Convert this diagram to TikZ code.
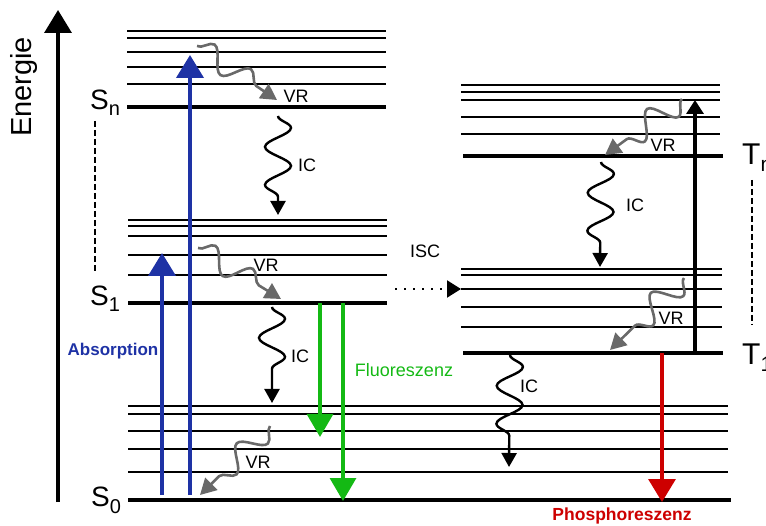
\documentclass[tikz,border=0pt]{standalone}
\usepackage{fontspec}
\setmainfont{Liberation Sans}
\usetikzlibrary{arrows.meta,decorations.pathmorphing}
\definecolor{absblue}{RGB}{30,50,165}
\definecolor{flgreen}{RGB}{20,185,20}
\definecolor{phred}{RGB}{205,0,0}
\definecolor{vrgray}{RGB}{105,105,105}
\newcommand\statelbl[2]{\fontsize{28}{30}\selectfont #1\raisebox{-6pt}{\fontsize{20}{22}\selectfont #2}}
\newcommand\tstatelbl[2]{\fontsize{30}{32}\selectfont #1\raisebox{-7pt}{\fontsize{21}{23}\selectfont #2}}
\begin{document}
\begin{tikzpicture}[x=1pt,y=-1pt,
  thinlvl/.style={draw=black,line width=1.4pt},
  thicklvl/.style={draw=black,line width=3.5pt},
  absarr/.style={draw=absblue,line width=4pt,-{Triangle[width=27pt,length=23pt]}},
  flarr/.style={draw=flgreen,line width=3.3pt,-{Triangle[width=26pt,length=23pt]}},
  pharr/.style={draw=phred,line width=3.3pt,-{Triangle[width=27pt,length=23pt]}},
  uparr/.style={draw=black,line width=3.3pt,-{Triangle[width=17pt,length=14pt]}},
  icw/.style={draw=black,line width=2.4pt,-{Triangle[width=15pt,length=14pt]},
    decorate,decoration={snake,amplitude=13pt,segment length=38pt,post length=16pt}},
  vrw/.style={draw=vrgray,line width=2.6pt,-{Triangle[width=17pt,length=16pt]},
    decorate,decoration={snake,amplitude=11pt,segment length=44pt,post length=17pt}},
  vrwt/.style={vrw,decoration={snake,amplitude=12.5pt,segment length=42pt,post length=17pt}},
  small/.style={inner sep=0pt,font=\fontsize{18}{20}\selectfont},
  slbl/.style={inner sep=0pt,anchor=base west},
  dashv/.style={draw=black,line width=1.3pt,dash pattern=on 6pt off 3pt}
]
\useasboundingbox (0,0) rectangle (766,526);

% Energy axis
\coordinate (eb) at (58,502);
\coordinate (et) at (58,10);
\draw[line width=3.5pt,-{Triangle[width=27pt,length=23pt]}] (eb) -- (et);
\node[rotate=90,inner sep=0pt,font=\fontsize{29}{31}\selectfont] (energie) at (24,87) {Energie};

% S_n levels
\foreach \yy in {31,38,52,67,84} \draw[thinlvl] (127,\yy) -- (386,\yy);
\draw[thicklvl] (127,107) -- (386,107);
% S_1 levels
\foreach \yy in {220,226,236,255,275} \draw[thinlvl] (128,\yy) -- (387,\yy);
\draw[thicklvl] (128,303) -- (387,303);
% S_0 levels
\foreach \yy in {406,414,431,449,472} \draw[thinlvl] (128,\yy) -- (728,\yy);
\draw[draw=black,line width=4.2pt] (128,500) -- (731,500);
% T_n levels
\foreach \yy in {85,92,100,117,134} \draw[thinlvl] (461,\yy) -- (720,\yy);
\draw[thicklvl] (463,156) -- (723,156);
% T_1 levels
\foreach \yy in {269,275,289,307,327} \draw[thinlvl] (461,\yy) -- (722,\yy);
\draw[thicklvl] (463,353) -- (723,353);

% state labels
\node[slbl] (lSn) at (90,110) {\statelbl{S}{n}};
\node[slbl] (lS1) at (90,306) {\statelbl{S}{1}};
\node[slbl] (lS0) at (91,507) {\statelbl{S}{0}};
\node[slbl] (lTn) at (742,165) {\tstatelbl{T}{n}};
\node[slbl] (lT1) at (742,365) {\tstatelbl{T}{1}};

% dashed vertical
\coordinate (dl1) at (95,121); \coordinate (dl2) at (95,272);
\draw[dashv] (dl1) -- (dl2);
\coordinate (dr1) at (752,180); \coordinate (dr2) at (752,325);
\draw[dashv,line width=1.8pt] (dr1) -- (dr2);

% absorption
\coordinate (a1s) at (162,495); \coordinate (a1e) at (162,253);
\coordinate (a2s) at (190,495); \coordinate (a2e) at (190,55);
\draw[absarr] (a1s) -- (a1e);
\draw[absarr] (a2s) -- (a2e);
\node[inner sep=0pt,font=\bfseries\fontsize{17}{19}\selectfont,text=absblue] (absorption) at (113,351) {Absorption};

% fluorescence
\coordinate (f1s) at (320,303); \coordinate (f1e) at (320,437);
\coordinate (f2s) at (343,303); \coordinate (f2e) at (343,501);
\draw[flarr] (f1s) -- (f1e);
\draw[flarr] (f2s) -- (f2e);
\node[inner sep=0pt,font=\fontsize{18}{20}\selectfont,text=flgreen] (fluor) at (404,370) {Fluoreszenz};

% phosphorescence
\coordinate (ps) at (662,353); \coordinate (pe) at (662,502);
\draw[pharr] (ps) -- (pe);
\node[inner sep=0pt,font=\bfseries\fontsize{17.5}{19}\selectfont,text=phred] (phos) at (622,516) {Phosphoreszenz};

% T1 -> Tn absorption
\coordinate (us) at (695,353); \coordinate (ue) at (695,100);
\draw[uparr] (us) -- (ue);

% ISC
\coordinate (isc1) at (395,289); \coordinate (isc2) at (461,289);
\draw[line width=2pt,dash pattern=on 2pt off 7pt,-{Triangle[width=17pt,length=14pt]}] (isc1) -- (isc2);
\node[small] (isclbl) at (425,251) {ISC};

% IC waves
\coordinate (ic1s) at (278,116); \coordinate (ic1e) at (278,215);
\draw[icw] (ic1s) -- (ic1e);
\node[small] (ic1l) at (307,165) {IC};
\coordinate (ic2s) at (272,307); \coordinate (ic2e) at (272,403);
\draw[icw] (ic2s) -- (ic2e);
\node[small] (ic2l) at (300,356) {IC};
\coordinate (ic3s) at (601,162); \coordinate (ic3e) at (600,267);
\draw[icw] (ic3s) -- (ic3e);
\node[small] (ic3l) at (635,205) {IC};
\coordinate (ic4s) at (510,355); \coordinate (ic4e) at (509,467);
\draw[icw] (ic4s) -- (ic4e);
\node[small] (ic4l) at (529,386) {IC};

% VR waves
\coordinate (vr1s) at (197,46); \coordinate (vr1e) at (277,100);
\draw[vrw] (vr1s) -- (vr1e);
\node[small] (vr1l) at (296,96) {VR};
\coordinate (vr2s) at (198,248); \coordinate (vr2e) at (281,299);
\draw[vrw] (vr2s) -- (vr2e);
\node[small] (vr2l) at (266,265) {VR};
\coordinate (vr3s) at (270,426); \coordinate (vr3e) at (200,495);
\draw[vrw] (vr3s) -- (vr3e);
\node[small] (vr3l) at (258,462) {VR};
\coordinate (vr4s) at (682,99); \coordinate (vr4e) at (605,155);
\draw[vrwt] (vr4s) -- (vr4e);
\node[small] (vr4l) at (663,145) {VR};
\coordinate (vr5s) at (684,278); \coordinate (vr5e) at (610,350);
\draw[vrwt] (vr5s) -- (vr5e);
\node[small] (vr5l) at (671,318) {VR};
\end{tikzpicture}
\end{document}
